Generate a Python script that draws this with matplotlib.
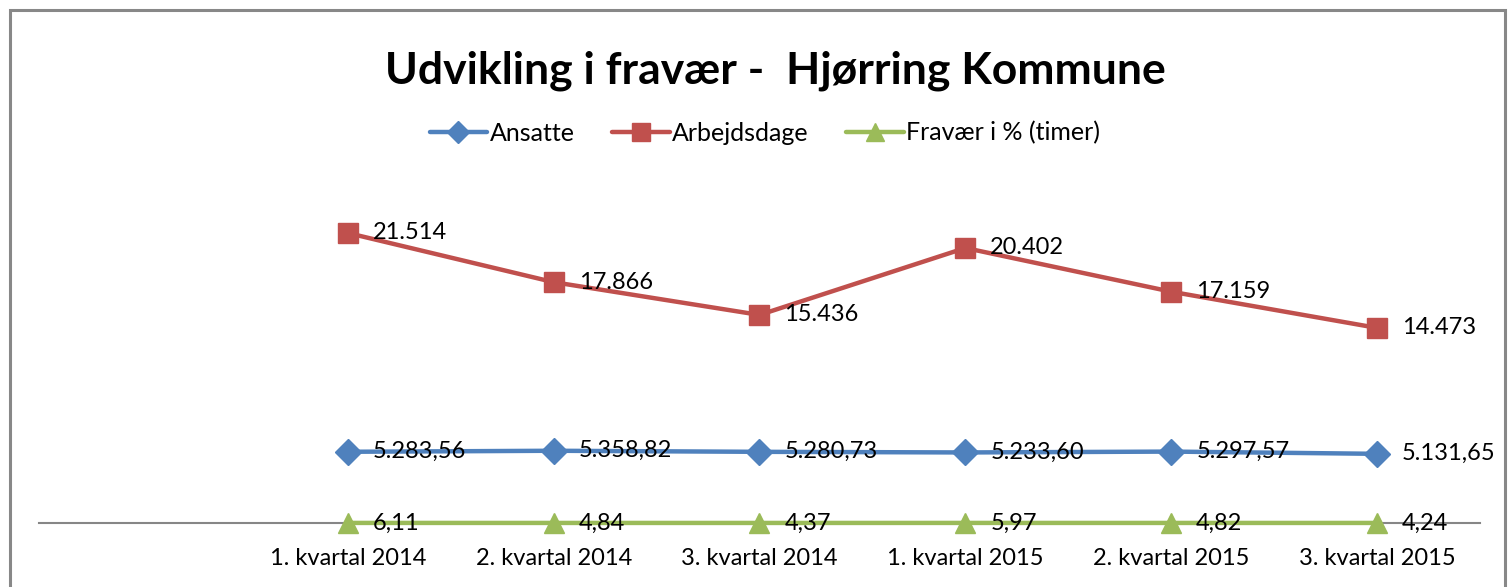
import matplotlib
matplotlib.use("Agg")
import matplotlib.pyplot as plt
from matplotlib.patches import Rectangle
import numpy as np

categories = ["1. kvartal 2014", "2. kvartal 2014", "3. kvartal 2014",
              "1. kvartal 2015", "2. kvartal 2015", "3. kvartal 2015"]
ansatte = [5283.56, 5358.82, 5280.73, 5233.60, 5297.57, 5131.65]
arbejdsdage = [21514, 17866, 15436, 20402, 17159, 14473]
fravaer = [6.11, 4.84, 4.37, 5.97, 4.82, 4.24]

FONT = "Lato"
plt.rcParams['font.family'] = [FONT, 'DejaVu Sans']

def dk(v, dec):
    s = f"{v:,.{dec}f}"
    return s.replace(",", "X").replace(".", ",").replace("X", ".")

fig = plt.figure(figsize=(15.08, 5.87), dpi=100)
W, H = 1508, 587
# chart border
fig.patches.append(Rectangle((10 / W, -0.1), (1505 - 10) / W, (H - 10) / H + 0.1,
                             transform=fig.transFigure, fill=False,
                             edgecolor="#888888", linewidth=2.2))

left, right = 39 / W, 1480 / W
bottom = (H - 523) / H
top = (H - 186) / H
ax = fig.add_axes([left, bottom, right - left, top - bottom])

x = np.arange(1, len(categories) + 1)
series = [
    (ansatte, "Ansatte", "#4F81BD", "D", 13, 2),
    (arbejdsdage, "Arbejdsdage", "#C0504D", "s", 14, 0),
    (fravaer, "Fravær i % (timer)", "#9BBB59", "^", 15, 2),
]
fs = 17
for vals, name, col, mk, ms, dec in series:
    ax.plot(x, vals, color=col, lw=3.2, marker=mk, markersize=ms,
            markeredgecolor=col, label=name, solid_capstyle="round", clip_on=False, zorder=3)
    for xi, v in zip(x, vals):
        ax.annotate(dk(v, dec), (xi, v), xytext=(18, 0), textcoords="offset points",
                    ha="left", va="center", fontsize=fs, color="black", zorder=4)

ax.set_xlim(-0.5, 6.5)
ax.set_ylim(0, 25000)
ax.set_xticks(x)
ax.set_xticklabels(categories, fontsize=fs)
ax.tick_params(axis="x", length=0, pad=18)
ax.set_yticks([])
for s in ["left", "right", "top"]:
    ax.spines[s].set_visible(False)
ax.spines["bottom"].set_color("#868686")
ax.spines["bottom"].set_linewidth(1.5)

fig.text(0.514, (H - 71) / H, "Udvikling i fravær -  Hjørring Kommune",
         ha="center", va="center", fontsize=32, fontweight="bold")

fig.legend(loc="center", bbox_to_anchor=(765 / W, (H - 133) / H), ncol=3,
           frameon=False, fontsize=18, handlelength=2.3, handletextpad=0.1,
           columnspacing=1.5, markerscale=0.9)

fig.savefig("out.png", dpi=100)
